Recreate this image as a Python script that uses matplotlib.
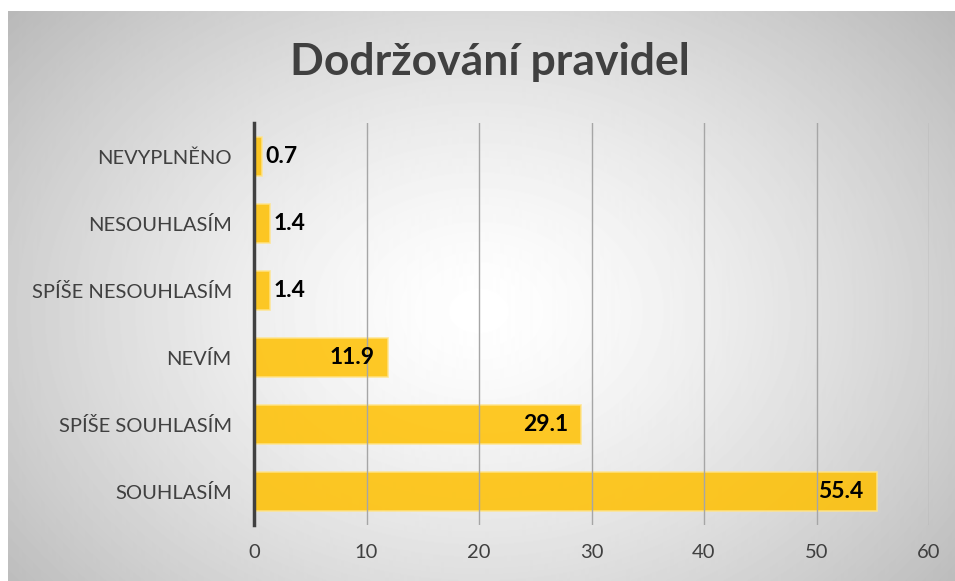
import numpy as np
import matplotlib.pyplot as plt

categories = ["SOUHLASÍM", "SPÍŠE SOUHLASÍM", "NEVÍM",
              "SPÍŠE NESOUHLASÍM", "NESOUHLASÍM", "NEVYPLNĚNO"]
values = [55.4, 29.1, 11.9, 1.4, 1.4, 0.7]
xticks = [0, 10, 20, 30, 40, 50, 60]
title = "Dodržování pravidel"

plt.rcParams['font.family'] = ['Lato', 'DejaVu Sans']

W, H = 955, 581
fig = plt.figure(figsize=(W / 100, H / 100), dpi=100)
fig.patch.set_facecolor('white')

# radial grey background of the chart area (white margin top/left)
bg = fig.add_axes([8 / W, 0, 1 - 8 / W, 1 - 11 / H])
bg.set_axis_off()
yy, xx = np.mgrid[0:570, 0:947]
cx, cy = 470, 300
r = np.sqrt(((xx - cx) / 560.0) ** 2 + ((yy - cy) / 420.0) ** 2)
shade = 1.0 - 0.24 * np.clip(r, 0, 1.25) ** 1.4
bg.imshow(shade, cmap='gray', vmin=0, vmax=1, aspect='auto',
          extent=[0, 1, 0, 1], origin='upper')
bg.set_xlim(0, 1)
bg.set_ylim(0, 1)

# plot area: x 254..929 px, y 123..525 px
ax = fig.add_axes([254 / W, (H - 525) / H, (929 - 254) / W, (525 - 123) / H])
ax.patch.set_alpha(0)

y = np.arange(len(categories))
ax.barh(y, values, height=0.58, color='#FFC000', alpha=0.85,
        edgecolor='#FFE48A', linewidth=1.2, zorder=2)

for yi, v in zip(y, values):
    if v < 5:
        ax.text(v + 0.3, yi, f"{v}", ha='left', va='center',
                fontsize=16.5, fontweight='bold', color='black', zorder=4)
    else:
        ax.text(v - 1.2, yi, f"{v}", ha='right', va='center',
                fontsize=16.5, fontweight='bold', color='black', zorder=4)

ax.set_xlim(0, 60)
ax.set_ylim(-0.5, 5.5)
ax.set_xticks(xticks)
ax.set_yticks(y)
ax.set_yticklabels(categories)
ax.xaxis.grid(True, color='#A6A6A6', linewidth=1.0, zorder=3)
ax.set_axisbelow(False)
for s in ['top', 'right', 'bottom']:
    ax.spines[s].set_visible(False)
ax.spines['left'].set_color('#404040')
ax.spines['left'].set_linewidth(2.5)
ax.spines['left'].set_zorder(5)
ax.tick_params(axis='both', length=0, labelsize=14.5, labelcolor='#404040')
ax.tick_params(axis='y', pad=16)
ax.tick_params(axis='x', pad=14)

fig.text(490 / W, 1 - 62 / H, title, ha='center', va='center',
         fontsize=32, fontweight='bold', color='#404040')

fig.savefig('out.png', dpi=100)
